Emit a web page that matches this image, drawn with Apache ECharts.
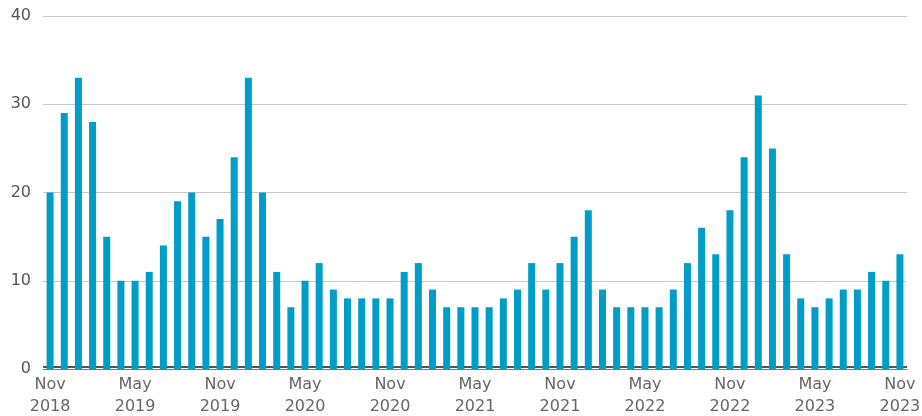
<!DOCTYPE html>
<html>
<head>
<meta charset="utf-8">
<script src="https://cdn.jsdelivr.net/npm/echarts@6/dist/echarts.min.js"></script>
<style>
  html, body { margin: 0; padding: 0; background: #fff; }
  #chart { width: 922px; height: 416px; }
</style>
</head>
<body>
<div id="chart"></div>
<script>
// months Nov 2018 .. Nov 2023
const months = [
  'Nov 2018', 'Dec 2018', 'Jan 2019', 'Feb 2019', 'Mar 2019', 'Apr 2019',
  'May 2019', 'Jun 2019', 'Jul 2019', 'Aug 2019', 'Sep 2019', 'Oct 2019',
  'Nov 2019', 'Dec 2019', 'Jan 2020', 'Feb 2020', 'Mar 2020', 'Apr 2020',
  'May 2020', 'Jun 2020', 'Jul 2020', 'Aug 2020', 'Sep 2020', 'Oct 2020',
  'Nov 2020', 'Dec 2020', 'Jan 2021', 'Feb 2021', 'Mar 2021', 'Apr 2021',
  'May 2021', 'Jun 2021', 'Jul 2021', 'Aug 2021', 'Sep 2021', 'Oct 2021',
  'Nov 2021', 'Dec 2021', 'Jan 2022', 'Feb 2022', 'Mar 2022', 'Apr 2022',
  'May 2022', 'Jun 2022', 'Jul 2022', 'Aug 2022', 'Sep 2022', 'Oct 2022',
  'Nov 2022', 'Dec 2022', 'Jan 2023', 'Feb 2023', 'Mar 2023', 'Apr 2023',
  'May 2023', 'Jun 2023', 'Jul 2023', 'Aug 2023', 'Sep 2023', 'Oct 2023',
  'Nov 2023'
];

const values = [
  20, 29, 33, 28, 15, 10, 10, 11, 14, 19, 20, 15,
  17, 24, 33, 20, 11, 7, 10, 12, 9, 8, 8, 8,
  8, 11, 12, 9, 7, 7, 7, 7, 8, 9, 12, 9,
  12, 15, 18, 9, 7, 7, 7, 7, 9, 12, 16, 13,
  18, 24, 31, 25, 13, 8, 7, 8, 9, 9, 11, 10,
  13
];

// labels shown every 6 months
const tickLabels = ['Nov\n2018', 'May\n2019', 'Nov\n2019', 'May\n2020', 'Nov\n2020',
  'May\n2021', 'Nov\n2021', 'May\n2022', 'Nov\n2022', 'May\n2023', 'Nov\n2023'];

const yTicks = [0, 10, 20, 30, 40];

const chart = echarts.init(document.getElementById('chart'));

chart.setOption({
  animation: false,
  grid: { left: 43, right: 15, top: 16, bottom: 47, outerBoundsMode: 'none' },
  xAxis: {
    type: 'category',
    data: months,
    boundaryGap: true,
    axisLine: { lineStyle: { color: '#777', width: 1 } },
    axisTick: { show: false },
    axisLabel: {
      interval: (i) => i % 6 === 0,
      formatter: (v, i) => tickLabels[i / 6],
      color: '#666',
      fontFamily: 'DejaVu Sans',
      fontSize: 16,
      lineHeight: 22,
      margin: 5
    }
  },
  yAxis: {
    type: 'value',
    min: yTicks[0],
    max: yTicks[yTicks.length - 1],
    interval: 10,
    axisLabel: {
      color: '#555',
      fontFamily: 'DejaVu Sans',
      fontSize: 16,
      margin: 12
    },
    splitLine: { lineStyle: { color: '#c8c8c8', width: 1 } }
  },
  series: [{
    // baseline just above zero, hidden behind the bars
    type: 'line',
    data: [],
    silent: true,
    markLine: {
      silent: true,
      symbol: 'none',
      label: { show: false },
      lineStyle: { color: '#1a1a1a', width: 1.5, type: 'solid' },
      data: [{ yAxis: 0.25 }]
    }
  }, {
    type: 'bar',
    data: values,
    barWidth: 7,
    zlevel: 1,
    itemStyle: { color: '#009dc9' }
  }]
});
</script>
</body>
</html>
